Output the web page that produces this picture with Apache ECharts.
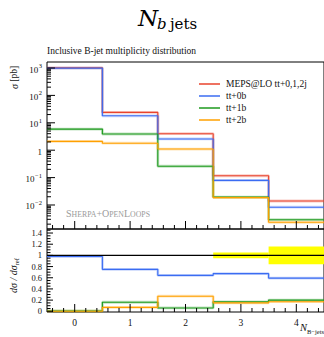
<!DOCTYPE html>
<html>
<head>
<meta charset="utf-8">
<script src="https://cdn.jsdelivr.net/npm/echarts@6/dist/echarts.min.js"></script>
<style>
html,body{margin:0;padding:0;background:#fff;}
#c{width:324px;height:337px;}
</style>
</head>
<body>
<div id="c"></div>
<script>
// ---- data ----
const binEdges = [-0.5, 0.5, 1.5, 2.5, 3.5, 4.5];
const categories = [0, 1, 2, 3, 4];
const sigmaMEPS = [1010, 24, 4.0, 0.117, 0.014];
const sigma0b   = [990, 18, 2.57, 0.079, 0.0083];
const sigma1b   = [5.9, 3.9, 0.26, 0.0195, 0.0029];
const sigma2b   = [2.1, 1.8, 1.1, 0.0185, 0.00235];
const ratioMEPS = [1, 1, 1, 1, 1];
const ratio0b   = [0.98, 0.75, 0.643, 0.673, 0.594];
const ratio1b   = [0.006, 0.162, 0.06, 0.17, 0.2];
const ratio2b   = [0.002, 0.07, 0.27, 0.15, 0.172];
const bandLo    = [0.998, 0.997, 0.996, 0.95, 0.84];
const bandHi    = [1.002, 1.003, 1.004, 1.05, 1.16];
const seriesNames = ['MEPS@LO tt+0,1,2j', 'tt+0b', 'tt+1b', 'tt+2b'];
const xTickLabels = [0, 1, 2, 3, 4];
const xMinorTicks = [-0.4, -0.2, 0.2, 0.4, 0.6, 0.8, 1.2, 1.4, 1.6, 1.8, 2.2, 2.4, 2.6, 2.8, 3.2, 3.4, 3.6, 3.8, 4.2, 4.4];
const logMajorTicks = [0.01, 0.1, 1, 10, 100, 1000];
const logMantissas = [2, 3, 4, 5, 6, 7, 8, 9];
const logDecades = [0.001, 0.01, 0.1, 1, 10, 100, 1000];
const ratioMajorTicks = [0, 0.2, 0.4, 0.6, 0.8, 1, 1.2, 1.4];
const ratioMinorTicks = [0.05, 0.1, 0.15, 0.25, 0.3, 0.35, 0.45, 0.5, 0.55, 0.65, 0.7, 0.75, 0.85, 0.9, 0.95, 1.05, 1.1, 1.15, 1.25, 1.3, 1.35, 1.45];

const X_MIN = -0.5, X_MAX = 4.5;
const Y_MIN = 1.33e-3, Y_MAX = 1656;
const R_MIN = -0.0125, R_MAX = 1.472;

const logMinorTicks = [];
logDecades.forEach(d => logMantissas.forEach(m => {
  const v = +(m * d).toPrecision(3);
  if (v > Y_MIN && v < Y_MAX) logMinorTicks.push(v);
}));

const colors = ['#e8432d', '#3b6cf2', '#1e9a1e', '#ffa000'];
const SERIF = '"Liberation Serif", "DejaVu Serif", serif';

function stepData(vals) {
  return binEdges.map((e, i) => [e, vals[Math.min(i, vals.length - 1)]]);
}

function xAx(grid, labels) {
  return {
    type: 'value', gridIndex: grid, min: X_MIN, max: X_MAX, position: 'bottom',
    axisLine: {show: false, onZero: false}, splitLine: {show: false}, axisTick: {show: false},
    axisLabel: labels ? {show: true, customValues: labels, color: '#111', fontFamily: SERIF, fontSize: 9.5, margin: 6,
      formatter: v => String(Math.round(v))} : {show: false}
  };
}

const sup = {
  n: {fontFamily: SERIF, fontSize: 9, color: '#111', lineHeight: 12, verticalAlign: 'bottom'},
  s: {fontFamily: SERIF, fontSize: 6.5, color: '#111', lineHeight: 12, verticalAlign: 'top', padding: [0, 0, 0, 0.5]}
};

// tick marks: [x, y, length, direction(0 = from left edge, 1 = from bottom edge)]
function tickItems(yBottom, yMaj, yMin, yMajLen, yMinLen) {
  const items = [];
  xTickLabels.forEach(v => items.push([v, yBottom, 8, 1]));
  xMinorTicks.forEach(v => items.push([v, yBottom, 4, 1]));
  yMaj.forEach(v => items.push([X_MIN, v, yMajLen, 0]));
  yMin.forEach(v => items.push([X_MIN, v, yMinLen, 0]));
  return items;
}
function tickRender(params, api) {
  const p = api.coord([api.value(0), api.value(1)]);
  const len = api.value(2);
  const x = p[0], y = p[1];
  const shape = api.value(3) === 0 ? {x1: x, y1: y, x2: x + len, y2: y} : {x1: x, y1: y, x2: x, y2: y - len};
  return {type: 'line', shape: shape, style: {stroke: '#000', lineWidth: 1}};
}

const option = {
  animation: false,
  backgroundColor: '#fff',
  grid: [
    {left: 47, top: 62, width: 278, height: 167, show: true, borderColor: '#000', borderWidth: 1},
    {left: 47, top: 229, width: 278, height: 83, show: true, borderColor: '#000', borderWidth: 1}
  ],
  xAxis: [xAx(0, null), xAx(1, xTickLabels)],
  yAxis: [
    {type: 'log', logBase: 10, gridIndex: 0, min: Y_MIN, max: Y_MAX, position: 'left',
      axisLine: {show: false, onZero: false}, splitLine: {show: false}, axisTick: {show: false},
      axisLabel: {show: true, customValues: logMajorTicks, margin: 5,
        formatter: v => {
          const e = Math.round(Math.log10(v));
          if (e === 0) return '{n|1}';
          return '{n|10}{s|' + (e < 0 ? '\u2212' + (-e) : e) + '}';
        }, rich: sup}},
    {type: 'value', gridIndex: 1, min: R_MIN, max: R_MAX, position: 'left',
      axisLine: {show: false, onZero: false}, splitLine: {show: false}, axisTick: {show: false},
      axisLabel: {show: true, customValues: ratioMajorTicks, margin: 5, color: '#111', fontFamily: SERIF, fontSize: 8.5,
        formatter: v => String(Math.round(v * 10) / 10)}}
  ],
  legend: {
    data: seriesNames, orient: 'vertical', left: 194, top: 73, itemGap: 0,
    itemWidth: 21, itemHeight: 1.5, icon: 'rect',
    textStyle: {fontFamily: SERIF, fontSize: 9.5, color: '#111', lineHeight: 12, padding: [0, 0, 0, 1]}
  },
  series: [],
  graphic: [
    {type: 'text', left: 138, top: 6, style: {text: 'N', font: 'italic 23px "DejaVu Serif"', fill: '#000'}},
    {type: 'text', left: 157, top: 16, style: {text: '{i|b} {r|jets}', rich: {
      i: {fontFamily: '"DejaVu Serif"', fontStyle: 'italic', fontSize: 15, fill: '#000'},
      r: {fontFamily: '"DejaVu Serif"', fontSize: 15, fill: '#000'}}}},
    {type: 'text', left: 47, top: 46, style: {text: 'Inclusive B-jet multiplicity distribution', font: '9.5px ' + SERIF, fill: '#111'}},
    {type: 'text', x: 9, y: 89, rotation: Math.PI / 2, style: {text: '{i|\u03c3} [pb]', font: '9.5px ' + SERIF, fill: '#111',
      rich: {i: {fontFamily: SERIF, fontStyle: 'italic', fontSize: 10}}}},
    {type: 'text', x: 8, y: 293, rotation: Math.PI / 2, style: {text: '{i|d\u03c3 / d\u03c3}{s|ref}', fill: '#111',
      rich: {i: {fontFamily: SERIF, fontStyle: 'italic', fontSize: 10, lineHeight: 12, verticalAlign: 'top'},
             s: {fontFamily: SERIF, fontSize: 6.5, lineHeight: 12, verticalAlign: 'bottom'}}}},
    {type: 'text', right: 0, top: 322, style: {text: '{i|N}{s|B\u2212jets}', fill: '#111',
      rich: {i: {fontFamily: SERIF, fontStyle: 'italic', fontSize: 10.5, lineHeight: 13, verticalAlign: 'top'},
             s: {fontFamily: SERIF, fontSize: 6.5, lineHeight: 13, verticalAlign: 'bottom'}}}},
    {type: 'text', left: 66, top: 208, style: {text: '{b|S}{s|HERPA}{b|+O}{s|PEN}{b|L}{s|OOPS}', fill: '#9a9a9a',
      rich: {b: {fontFamily: SERIF, fontSize: 10, fill: '#9a9a9a', lineHeight: 12, verticalAlign: 'bottom'},
             s: {fontFamily: SERIF, fontSize: 7.8, fill: '#9a9a9a', lineHeight: 12, verticalAlign: 'bottom'}}}}
  ]
};

// tick marks drawn through the axes' own scales
option.series.push({
  type: 'custom', name: 'ticks main', xAxisIndex: 0, yAxisIndex: 0, clip: false, z: 6,
  data: tickItems(Y_MIN, logMajorTicks, logMinorTicks, 8, 4),
  encode: {x: 0, y: 1}, renderItem: tickRender
});
option.series.push({
  type: 'custom', name: 'ticks ratio', xAxisIndex: 1, yAxisIndex: 1, clip: false, z: 6,
  data: tickItems(R_MIN, ratioMajorTicks, ratioMinorTicks, 6, 3.5),
  encode: {x: 0, y: 1}, renderItem: tickRender
});

// ratio uncertainty band
option.series.push({
  type: 'custom', name: 'band', xAxisIndex: 1, yAxisIndex: 1, clip: true, z: 1,
  data: categories.map((c, i) => [binEdges[i], binEdges[i + 1], bandLo[i], bandHi[i]]),
  encode: {x: [0, 1], y: [2, 3]},
  renderItem: function (params, api) {
    const p0 = api.coord([api.value(0), api.value(3)]);
    const p1 = api.coord([api.value(1), api.value(2)]);
    return {type: 'rect', shape: {x: p0[0], y: p0[1], width: p1[0] - p0[0], height: p1[1] - p0[1]},
      style: {fill: '#ffff00'}};
  }
});

const mainVals = [sigmaMEPS, sigma0b, sigma1b, sigma2b];
const ratioVals = [ratioMEPS, ratio0b, ratio1b, ratio2b];

mainVals.forEach((vals, k) => {
  option.series.push({
    type: 'line', name: seriesNames[k] + ' band', xAxisIndex: 0, yAxisIndex: 0, step: 'end',
    data: stepData(vals), showSymbol: false, symbol: 'none', z: 2,
    lineStyle: {color: colors[k], width: 2.8, opacity: 0.28}
  });
  option.series.push({
    type: 'line', name: seriesNames[k], xAxisIndex: 0, yAxisIndex: 0, step: 'end',
    data: stepData(vals), showSymbol: false, symbol: 'none', z: 3,
    itemStyle: {color: colors[k]},
    lineStyle: {color: colors[k], width: 1.1}
  });
});

ratioVals.forEach((vals, k) => {
  if (k > 0) {
    option.series.push({
      type: 'line', name: 'ratio ' + seriesNames[k] + ' band', xAxisIndex: 1, yAxisIndex: 1, step: 'end',
      data: stepData(vals), showSymbol: false, symbol: 'none', z: 2,
      lineStyle: {color: colors[k], width: 2.8, opacity: 0.28}
    });
  }
  option.series.push({
    type: 'line', name: 'ratio ' + seriesNames[k], xAxisIndex: 1, yAxisIndex: 1, step: 'end',
    data: stepData(vals), showSymbol: false, symbol: 'none', z: k === 0 ? 5 : 3,
    lineStyle: {color: k === 0 ? '#000' : colors[k], width: 1.1}
  });
});

const chart = echarts.init(document.getElementById('c'), null, {renderer: 'svg'});
chart.setOption(option);
</script>
</body>
</html>
